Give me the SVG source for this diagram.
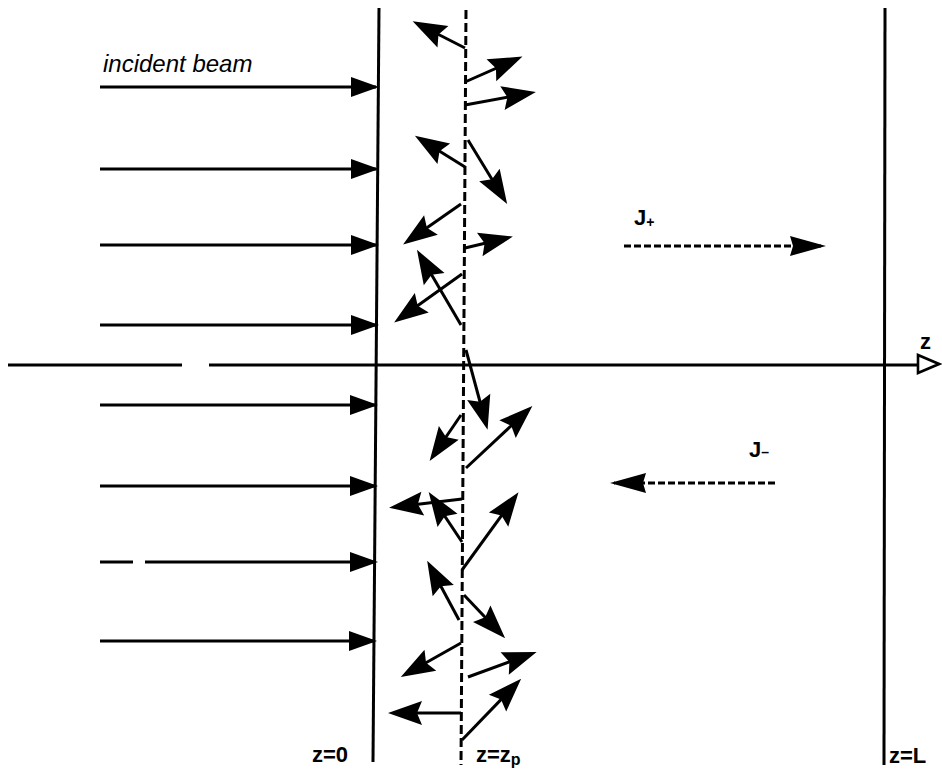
<svg xmlns="http://www.w3.org/2000/svg" width="942" height="775" viewBox="0 0 942 775">
<style>
.ln{stroke:#000;stroke-width:3;fill:none}
.ar{stroke:#000;stroke-width:3;fill:none;marker-end:url(#ah)}
.inc{stroke:#000;stroke-width:2.8;fill:none;marker-end:url(#ih)}
.dj{stroke:#000;stroke-width:2.8;fill:none;stroke-dasharray:7 3;marker-end:url(#jh)}
.t{font-family:"Liberation Sans",Arial,sans-serif;fill:#000}
.lb{font-family:"Liberation Sans",Arial,sans-serif;font-weight:bold;font-size:22px;fill:#000}
</style>
<defs>
<marker id="ah" markerUnits="userSpaceOnUse" markerWidth="36" markerHeight="26" refX="28" refY="12" orient="auto" overflow="visible">
<path d="M0,0 L34,12 L0,24 L5,12 z" fill="#000"/>
</marker>
<marker id="ih" markerUnits="userSpaceOnUse" markerWidth="32" markerHeight="22" refX="25" refY="10" orient="auto" overflow="visible">
<path d="M0,0 L28,10 L0,20 z" fill="#000"/>
</marker>
<marker id="jh" markerUnits="userSpaceOnUse" markerWidth="40" markerHeight="22" refX="32" refY="10" orient="auto" overflow="visible">
<path d="M0,0 L36,10 L0,20 L3,10 z" fill="#000"/>
</marker>
</defs>

<g id="planes">
<line id="plane-z0" class="ln" x1="379" y1="8" x2="373" y2="762"/>
<line id="plane-zp" class="ln" x1="466" y1="10" x2="461" y2="765" stroke-dasharray="9 4"/>
<line id="plane-zL" class="ln" x1="885" y1="8" x2="884" y2="765"/>
</g>

<g id="z-axis">
<line class="ln" x1="8" y1="365" x2="182" y2="365" stroke-width="2.6"/>
<line class="ln" x1="209" y1="365" x2="918" y2="365" stroke-width="2.6"/>
<path d="M918,355 L939,364 L918,373 z" fill="#fff" stroke="#000" stroke-width="2.6"/>
<text class="lb" x="920" y="349" font-size="19">z</text>
</g>

<g id="incident-beam">
<text class="t" x="103" y="72" font-size="24" font-style="italic">incident beam</text>
<line class="inc" x1="100" y1="87" x2="376" y2="87"/>
<line class="inc" x1="100" y1="169" x2="376" y2="169"/>
<line class="inc" x1="100" y1="245" x2="376" y2="245"/>
<line class="inc" x1="100" y1="325" x2="376" y2="325"/>
<line class="inc" x1="100" y1="405" x2="375" y2="405"/>
<line class="inc" x1="100" y1="486" x2="375" y2="486"/>
<line class="ln" stroke-width="2.8" x1="100" y1="562" x2="133" y2="562"/>
<line class="inc" x1="145" y1="562" x2="375" y2="562"/>
<line class="inc" x1="100" y1="641" x2="374" y2="641"/>
</g>

<g id="scattered">
<line class="ar" x1="465" y1="48" x2="418" y2="24"/>
<line class="ar" x1="465" y1="82" x2="517" y2="59"/>
<line class="ar" x1="465" y1="105" x2="530" y2="93"/>
<line class="ar" x1="465" y1="167" x2="420" y2="139"/>
<line class="ar" x1="468" y1="140" x2="504" y2="199"/>
<line class="ar" x1="461" y1="204" x2="408" y2="241"/>
<line class="ar" x1="465" y1="248" x2="507" y2="238"/>
<line class="ar" x1="462" y1="274" x2="399" y2="319"/>
<line class="ar" x1="461" y1="325" x2="420" y2="255"/>
<line class="ar" x1="466" y1="350" x2="486" y2="424"/>
<line class="ar" x1="461" y1="415" x2="433" y2="456"/>
<line class="ar" x1="466" y1="468" x2="528" y2="410"/>
<line class="ar" x1="462" y1="499" x2="395" y2="507"/>
<line class="ar" x1="462" y1="542" x2="432" y2="497"/>
<line class="ar" x1="462" y1="570" x2="515" y2="497"/>
<line class="ar" x1="459" y1="620" x2="430" y2="566"/>
<line class="ar" x1="464" y1="595" x2="501" y2="634"/>
<line class="ar" x1="461" y1="643" x2="406" y2="674"/>
<line class="ar" x1="468" y1="677" x2="531" y2="654"/>
<line class="ar" x1="462" y1="740" x2="517" y2="683"/>
<line class="ar" x1="461" y1="713" x2="394" y2="713"/>
</g>

<g id="J-plus">
<text class="lb" x="634" y="225" font-size="17">J<tspan font-size="14" dy="2">+</tspan></text>
<line class="dj" x1="624" y1="246" x2="822" y2="246"/>
</g>

<g id="J-minus">
<text class="lb" x="749" y="457" font-size="17">J<tspan font-size="14">–</tspan></text>
<line class="dj" x1="775" y1="483" x2="614" y2="483"/>
</g>

<g id="labels">
<text class="lb" x="312" y="762">z=0</text>
<text class="lb" x="476" y="762">z=z<tspan font-size="16" dy="3">p</tspan></text>
<text class="lb" x="889" y="763">z=L</text>
</g>
</svg>
